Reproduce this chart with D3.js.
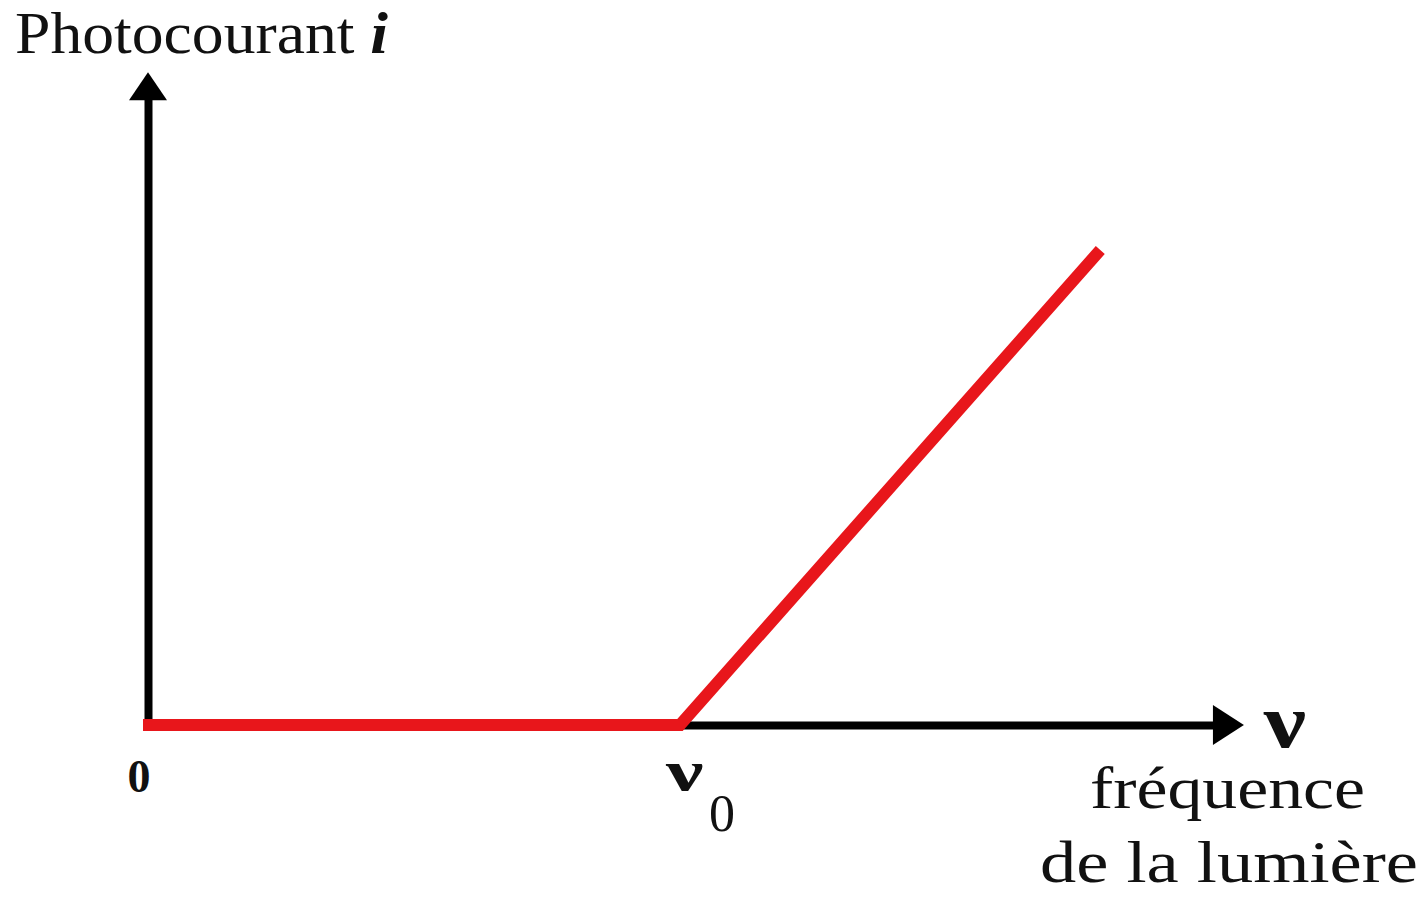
<!DOCTYPE html>
<html>
<head>
<meta charset="utf-8">
<script src="https://cdn.jsdelivr.net/npm/d3@7"></script>
<style>
  html, body { margin: 0; padding: 0; background: #fff; }
  svg { display: block; }
  text { font-family: "Liberation Serif", "DejaVu Serif", serif; fill: #111; }
</style>
</head>
<body>
<svg id="chart" width="1424" height="897"></svg>
<script>
// Photocurrent vs. light frequency: zero below the threshold ν0, linear above it
const frequency = [0, 1, 1.79];      // in units of ν0
const photocurrent = [0, 0, 1];      // relative photocurrent i
const xAxisMax = 2.06;               // end of the frequency axis (arrow tip)
const yAxisMax = 1.37;               // end of the current axis (arrow tip)
const tickLabels = ["0", "ν", "0"];  // origin, threshold symbol and its subscript

const svg = d3.select("#chart");

const x = d3.scaleLinear().domain([0, 1]).range([148, 680]);
const y = d3.scaleLinear().domain([0, 1]).range([725, 250]);

// Axes drawn as bare domain lines
svg.append("g")
  .attr("transform", `translate(0,${y(0)})`)
  .call(d3.axisBottom(x.copy().domain([0, xAxisMax]).range([x(0) - 4, x(xAxisMax) - 20]))
    .tickValues([]).tickSizeOuter(0));
svg.append("g")
  .attr("transform", `translate(${x(0)},0)`)
  .call(d3.axisLeft(y.copy().domain([0, yAxisMax]).range([y(0) + 4, y(yAxisMax) + 20]))
    .tickValues([]).tickSizeOuter(0));
svg.selectAll(".domain").attr("stroke", "#000").attr("stroke-width", 8);

// Arrowheads
const xt = x(xAxisMax), y0 = y(0);
svg.append("path")
  .attr("d", `M${xt},${y0} L${xt - 31},${y0 - 20} L${xt - 31},${y0 + 20} Z`)
  .attr("fill", "#000");
const yt = y(yAxisMax) - 2, x0 = x(0);
svg.append("path")
  .attr("d", `M${x0},${yt} L${x0 - 19},${yt + 28} L${x0 + 19},${yt + 28} Z`)
  .attr("fill", "#000");

// Photocurrent curve
const line = d3.line().x((d, i) => x(frequency[i])).y(d => y(d));
svg.append("path")
  .datum(photocurrent)
  .attr("d", line)
  .attr("fill", "none")
  .attr("stroke", "#e8161b")
  .attr("stroke-width", 12)
  .attr("stroke-linejoin", "miter");
// extend the flat part over the axis stroke
svg.append("line")
  .attr("x1", x(0) - 5).attr("x2", x(0) + 10)
  .attr("y1", y(0)).attr("y2", y(0))
  .attr("stroke", "#e8161b").attr("stroke-width", 12);

// horizontal stretch about a given x
const stretch = (cx, s) => `translate(${cx},0) scale(${s},1) translate(${-cx},0)`;

// Labels
svg.append("text")
  .attr("x", 15).attr("y", 53)
  .attr("font-size", 60)
  .attr("textLength", 373).attr("lengthAdjust", "spacingAndGlyphs")
  .text("Photocourant ")
  .append("tspan")
  .attr("font-weight", "bold").attr("font-style", "italic")
  .text("i");

svg.append("text")
  .attr("x", x(0) - 9).attr("y", 792)
  .attr("text-anchor", "middle")
  .attr("font-size", 46).attr("font-weight", "bold")
  .text(tickLabels[0]);

const nuX = x(frequency[1]) - 14;
svg.append("text")
  .attr("x", nuX).attr("y", 790)
  .attr("font-size", 56).attr("font-weight", "bold")
  .attr("transform", stretch(nuX, 1.5))
  .text(tickLabels[1]);
svg.append("text")
  .attr("x", nuX + 43).attr("y", 831)
  .attr("font-size", 52)
  .text(tickLabels[2]);

svg.append("text")
  .attr("x", 1285).attr("y", 747)
  .attr("text-anchor", "middle")
  .attr("font-size", 76).attr("font-weight", "bold")
  .attr("transform", stretch(1285, 1.25))
  .text("ν");

svg.append("text")
  .attr("x", 1090).attr("y", 808)
  .attr("font-size", 60)
  .attr("textLength", 275).attr("lengthAdjust", "spacingAndGlyphs")
  .text("fréquence");
svg.append("text")
  .attr("x", 1040).attr("y", 882)
  .attr("font-size", 60)
  .attr("textLength", 378).attr("lengthAdjust", "spacingAndGlyphs")
  .text("de la lumière");
</script>
</body>
</html>
